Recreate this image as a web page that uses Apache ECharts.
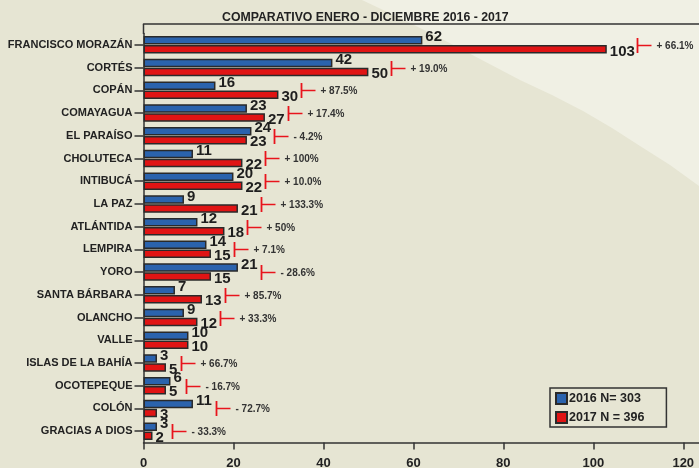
<!DOCTYPE html>
<html><head><meta charset="utf-8">
<script src="https://cdn.jsdelivr.net/npm/echarts@6/dist/echarts.min.js"></script>
<style>html,body{margin:0;padding:0;background:#e6e5d3}#c{width:699px;height:468px}</style>
</head><body><div id="c"></div>
<script>
const categories = ['FRANCISCO MORAZÁN','CORTÉS','COPÁN','COMAYAGUA','EL PARAÍSO','CHOLUTECA','INTIBUCÁ','LA PAZ','ATLÁNTIDA','LEMPIRA','YORO','SANTA BÁRBARA','OLANCHO','VALLE','ISLAS DE LA BAHÍA','OCOTEPEQUE','COLÓN','GRACIAS A DIOS'];
const values2016 = [62,42,16,23,24,11,20,9,12,14,21,7,9,10,3,6,11,3];
const values2017 = [103,50,30,27,23,22,22,21,18,15,15,13,12,10,5,5,3,2];
const changeLabels = ['+ 66.1%','+ 19.0%','+ 87.5%','+ 17.4%','- 4.2%','+ 100%','+ 10.0%','+ 133.3%','+ 50%','+ 7.1%','- 28.6%','+ 85.7%','+ 33.3%','','+ 66.7%','- 16.7%','- 72.7%','- 33.3%'];
const seriesNames = ['2016 N= 303','2017 N = 396'];
const xTicks = [0,20,40,60,80,100,120];

const FONT = 'Liberation Sans, Arial, sans-serif';
const changeData = [];
categories.forEach((c,i)=>{
  if (changeLabels[i]) changeData.push([Math.max(values2016[i],values2017[i]), i, changeLabels[i]]);
});

const chart = echarts.init(document.getElementById('c'), null, {renderer:'canvas'});
chart.setOption({
  backgroundColor: '#e6e5d3',
  animation: false,
  title: {
    text: 'COMPARATIVO ENERO - DICIEMBRE 2016 - 2017',
    left: 217, top: 7,
    textStyle: {fontFamily: FONT, fontSize: 12.3, fontWeight: 'bold', color: '#222'}
  },
  graphic: [
    {type:'polygon', z:-10, silent:true,
     shape:{points:[[362,0],[400,18],[440,38],[480,59],[520,80],[552,95],[583,111],[612,128],[640,146],[670,165],[699,186],[699,0]]},
     style:{fill:'#f0f0e4'}},
    {type:'line', z:10, silent:true, shape:{x1:143.5,y1:24,x2:143.5,y2:34}, style:{stroke:'#333', lineWidth:1.5}}
  ],
  legend: {
    orient: 'vertical', left: 550, top: 388,
    itemWidth: 11, itemHeight: 11, itemGap: 6,
    padding: [4, 22, 3, 5],
    borderColor: '#333', borderWidth: 1.5,
    icon: 'rect',
    textStyle: {fontFamily: FONT, fontSize: 12.5, fontWeight: 'bold', color: '#222', padding:[0,0,0,-3], lineHeight: 13},
    data: seriesNames
  },
  grid: {left: 143.5, right: 0, top: 33.5, bottom: 25.5, containLabel: false, outerBoundsMode: 'none'},
  xAxis: [{
    type: 'value', min: 0, max: 123.5, interval: 20,
    axisLine: {show: true, lineStyle: {color: '#333', width: 1.5}},
    axisTick: {show: true, length: 7, lineStyle: {color: '#333', width: 1.5}},
    axisLabel: {showMaxLabel: false, margin: 14, fontFamily: FONT, fontSize: 13, fontWeight: 'bold', color: '#222'},
    splitLine: {show: false}
  },{
    type: 'value', min: 0, max: 123.5, position: 'top', offset: 9.5,
    axisLine: {show: true, lineStyle: {color: '#333', width: 1.5}},
    axisTick: {show: false}, axisLabel: {show: false}, splitLine: {show: false}
  }],
  yAxis: {
    type: 'category', data: categories, inverse: true,
    axisLine: {show: true, lineStyle: {color: '#333', width: 1.5}},
    axisTick: {show: true, alignWithLabel: true, length: 9, lineStyle: {color: '#333', width: 1.5}},
    axisLabel: {margin: 11, fontFamily: FONT, fontSize: 11, fontWeight: 'bold', color: '#222'}
  },
  series: [
    {name: seriesNames[0], type: 'bar', data: values2016, barWidth: 8.5, barGap: '6%',
     itemStyle: {color: '#2b63ad', borderColor: '#2a2a2a', borderWidth: 1.5},
     label: {show: true, position: 'right', distance: 3, offset: [0,-3],
       fontFamily: FONT, fontSize: 15, fontWeight: 'bold', color: '#1e1e1e'}},
    {name: seriesNames[1], type: 'bar', data: values2017, barWidth: 8.5,
     itemStyle: {color: '#e01414', borderColor: '#2a2a2a', borderWidth: 1.5},
     label: {show: true, position: 'right', distance: 3, offset: [0,2],
       fontFamily: FONT, fontSize: 15, fontWeight: 'bold', color: '#1e1e1e'}},
    {type: 'custom', data: changeData, encode: {x: 0, y: 1}, z: 5, silent: true,
     renderItem: function(params, api){
       const v = api.value(0);
       const p = api.coord([v, api.value(1)]);
       const digits = String(v).length;
       const x = Math.round(p[0] + 3 + 7.5*digits + 5) + 0.5;
       const y = Math.round(p[1]) + 0.5;
       const txt = changeData[params.dataIndex][2];
       return {type:'group', children:[
         {type:'line', shape:{x1:x,y1:y-7.5,x2:x,y2:y+7.5}, style:{stroke:'#e8141c', lineWidth:1.8}},
         {type:'line', shape:{x1:x,y1:y,x2:x+14,y2:y}, style:{stroke:'#e8141c', lineWidth:1.5}},
         {type:'text', x:x+19, y:y+1, style:{text:txt, fill:'#333', font:'bold 10px '+FONT, textVerticalAlign:'middle', verticalAlign:'middle'}}
       ]};
     }}
  ]
});
</script></body></html>
